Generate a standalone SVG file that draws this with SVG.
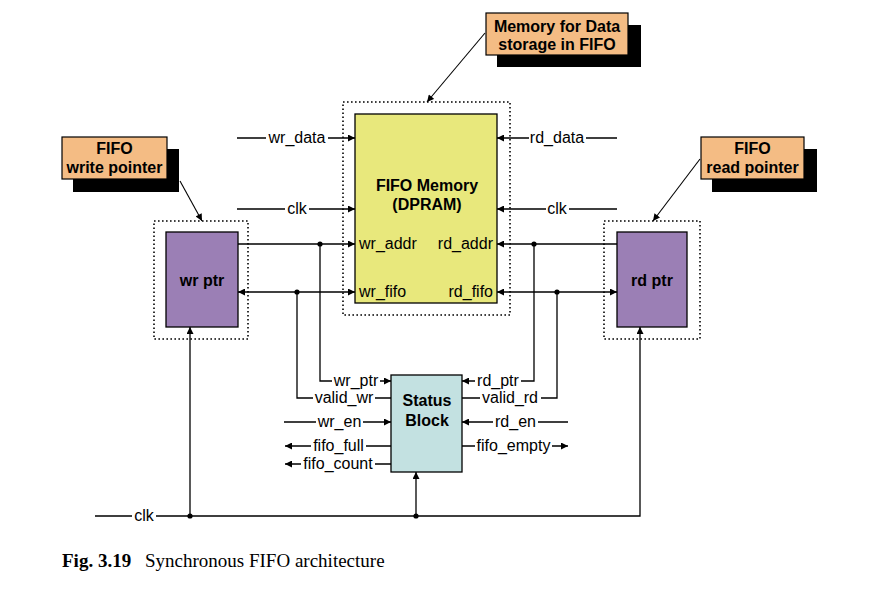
<svg xmlns="http://www.w3.org/2000/svg" width="872" height="596" viewBox="0 0 872 596">
<style>
.w{stroke:#000;stroke-width:1.3;fill:none}
.lbl{font-family:"Liberation Sans",Arial,sans-serif;font-size:16px;fill:#000}
.b{font-family:"Liberation Sans",Arial,sans-serif;font-size:16px;font-weight:bold;fill:#000}
.dot{stroke:#000;stroke-width:1.6;stroke-dasharray:1.6 2.4;fill:none}
.call{fill:#f4bc84;stroke:#000;stroke-width:1.2}
</style>
<defs>
<marker id="ah" viewBox="0 0 10 10" refX="10" refY="5" markerWidth="8" markerHeight="7" markerUnits="userSpaceOnUse" orient="auto-start-reverse">
<path d="M0,0 L10,5 L0,10 z" fill="#000"/>
</marker>
</defs>
<rect width="872" height="596" fill="#fff"/>

<g id="connectors">
<!-- memory inputs left -->
<path class="w" d="M237,138 H266 M328,138 H355" marker-end="url(#ah)"/>
<path class="w" d="M237,209 H285 M309,209 H355" marker-end="url(#ah)"/>
<!-- memory outputs right -->
<path class="w" d="M617,138 H586 M529,138 H497" marker-end="url(#ah)"/>
<path class="w" d="M617,209 H569 M546,209 H497" marker-end="url(#ah)"/>
<!-- wr_addr -->
<path class="w" d="M238,244 H355" marker-end="url(#ah)"/>
<!-- wr_fifo -->
<path class="w" d="M238,292 H355" marker-start="url(#ah)" marker-end="url(#ah)"/>
<!-- rd_addr -->
<path class="w" d="M617,244 H497" marker-end="url(#ah)"/>
<!-- rd_fifo -->
<path class="w" d="M497,292 H617" marker-start="url(#ah)" marker-end="url(#ah)"/>
<!-- wr_ptr -->
<path class="w" d="M320,244 V381 H332 M380,381 H391" marker-end="url(#ah)"/>
<!-- valid_wr -->
<path class="w" d="M297,292 V398 H313 M375,398 H391"/>
<!-- wr_en -->
<path class="w" d="M284,422 H316 M363,422 H391" marker-end="url(#ah)"/>
<!-- fifo_full -->
<path class="w" d="M391,446 H366 M311,446 H285" marker-end="url(#ah)"/>
<!-- fifo_count -->
<path class="w" d="M391,464 H375 M301,464 H285" marker-end="url(#ah)"/>
<!-- rd_ptr -->
<path class="w" d="M534,244 V381 H521 M475,381 H462" marker-end="url(#ah)"/>
<!-- valid_rd -->
<path class="w" d="M557,292 V398 H541 M480,398 H462"/>
<!-- rd_en -->
<path class="w" d="M568,422 H538 M493,422 H462" marker-end="url(#ah)"/>
<!-- fifo_empty -->
<path class="w" d="M462,446 H475 M552,446 H568" marker-end="url(#ah)"/>
<!-- bottom clk -->
<path class="w" d="M95,516 H132 M156,516 H640 V327" marker-end="url(#ah)"/>
<path class="w" d="M190,516 V327" marker-end="url(#ah)"/>
<path class="w" d="M416,516 V472" marker-end="url(#ah)"/>
<!-- junction dots -->
<circle cx="320" cy="244" r="2.6" fill="#000"/>
<circle cx="297" cy="292" r="2.6" fill="#000"/>
<circle cx="534" cy="244" r="2.6" fill="#000"/>
<circle cx="557" cy="292" r="2.6" fill="#000"/>
<circle cx="190" cy="516" r="2.6" fill="#000"/>
<circle cx="416" cy="516" r="2.6" fill="#000"/>
<!-- callout arrows -->
<path class="w" style="stroke-width:1.1" d="M485,33 L427,102" marker-end="url(#ah)"/>
<path class="w" style="stroke-width:1.1" d="M180,181 L202,221" marker-end="url(#ah)"/>
<path class="w" style="stroke-width:1.1" d="M700,159 L653,221" marker-end="url(#ah)"/>
</g>

<g id="signal-labels">
<text class="lbl" x="297" y="143" text-anchor="middle">wr_data</text>
<text class="lbl" x="297" y="214" text-anchor="middle">clk</text>
<text class="lbl" x="557" y="143" text-anchor="middle">rd_data</text>
<text class="lbl" x="557" y="214" text-anchor="middle">clk</text>
<text class="lbl" x="356" y="386" text-anchor="middle">wr_ptr</text>
<text class="lbl" x="344" y="403" text-anchor="middle">valid_wr</text>
<text class="lbl" x="339.5" y="427" text-anchor="middle">wr_en</text>
<text class="lbl" x="338.5" y="451" text-anchor="middle">fifo_full</text>
<text class="lbl" x="338" y="469" text-anchor="middle">fifo_count</text>
<text class="lbl" x="498" y="386" text-anchor="middle">rd_ptr</text>
<text class="lbl" x="510" y="403" text-anchor="middle">valid_rd</text>
<text class="lbl" x="515.5" y="427" text-anchor="middle">rd_en</text>
<text class="lbl" x="513.5" y="451" text-anchor="middle">fifo_empty</text>
<text class="lbl" x="144" y="521" text-anchor="middle">clk</text>
</g>

<g id="memory">
<rect class="dot" x="343" y="102" width="167" height="213"/>
<rect x="355" y="114" width="142" height="189" fill="#e8e87c" stroke="#000" stroke-width="1.3"/>
<text class="b" x="427" y="191" text-anchor="middle">FIFO Memory</text>
<text class="b" x="427" y="210" text-anchor="middle">(DPRAM)</text>
<text class="lbl" x="359" y="249">wr_addr</text>
<text class="lbl" x="359" y="297">wr_fifo</text>
<text class="lbl" x="493" y="249" text-anchor="end">rd_addr</text>
<text class="lbl" x="493" y="297" text-anchor="end">rd_fifo</text>
</g>

<g id="wr-ptr">
<rect class="dot" x="154" y="221" width="94" height="118"/>
<rect x="166" y="232" width="72" height="95" fill="#9b7fb5" stroke="#000" stroke-width="1.3"/>
<text class="b" x="202" y="286" text-anchor="middle">wr ptr</text>
</g>

<g id="rd-ptr">
<rect class="dot" x="604" y="221" width="96" height="118"/>
<rect x="617" y="232" width="70" height="95" fill="#9b7fb5" stroke="#000" stroke-width="1.3"/>
<text class="b" x="652" y="286" text-anchor="middle">rd ptr</text>
</g>

<g id="status-block">
<rect x="391" y="375" width="71" height="97" fill="#c3e1e1" stroke="#000" stroke-width="1.3"/>
<text class="b" x="427" y="406" text-anchor="middle">Status</text>
<text class="b" x="427" y="426" text-anchor="middle">Block</text>
</g>

<g id="callout-memory">
<rect x="497" y="25" width="144" height="42" fill="#000"/>
<rect class="call" x="486" y="13" width="142" height="42"/>
<text class="b" x="557" y="32" text-anchor="middle">Memory for Data</text>
<text class="b" x="557" y="50" text-anchor="middle">storage in FIFO</text>
</g>

<g id="callout-write">
<rect x="73" y="149" width="106" height="43" fill="#000"/>
<rect class="call" x="62" y="137" width="105" height="42"/>
<text class="b" x="114.5" y="154" text-anchor="middle">FIFO</text>
<text class="b" x="114.5" y="173" text-anchor="middle">write pointer</text>
</g>

<g id="callout-read">
<rect x="712" y="149" width="105" height="43" fill="#000"/>
<rect class="call" x="701" y="137" width="103" height="42"/>
<text class="b" x="752.5" y="154" text-anchor="middle">FIFO</text>
<text class="b" x="752.5" y="173" text-anchor="middle">read pointer</text>
</g>

<g id="caption">
<text x="62" y="567" style="font-family:'Liberation Serif','Times New Roman',serif;font-size:19px;fill:#000"><tspan font-weight="bold">Fig. 3.19</tspan><tspan x="145">Synchronous FIFO architecture</tspan></text>
</g>
</svg>
